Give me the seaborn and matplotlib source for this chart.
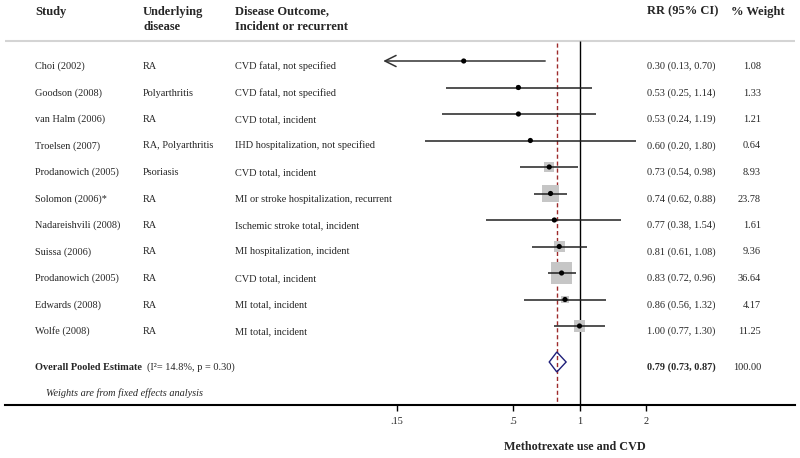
import numpy as np
import pandas as pd
import matplotlib
matplotlib.use('Agg')
import matplotlib.pyplot as plt
import seaborn as sns
from matplotlib.patches import Polygon

# forest plot data
studies = ['Choi (2002)', 'Goodson (2008)', 'van Halm (2006)', 'Troelsen (2007)',
           'Prodanowich (2005)', 'Solomon (2006)*', 'Nadareishvili (2008)',
           'Suissa (2006)', 'Prodanowich (2005)', 'Edwards (2008)', 'Wolfe (2008)']
diseases = ['RA', 'Polyarthritis', 'RA', 'RA, Polyarthritis', 'Psoriasis', 'RA',
            'RA', 'RA', 'RA', 'RA', 'RA']
outcomes = ['CVD fatal, not specified', 'CVD fatal, not specified', 'CVD total, incident',
            'IHD hospitalization, not specified', 'CVD total, incident',
            'MI or stroke hospitalization, recurrent', 'Ischemic stroke total, incident',
            'MI hospitalization, incident', 'CVD total, incident', 'MI total, incident',
            'MI total, incident']
rr = [0.30, 0.53, 0.53, 0.60, 0.73, 0.74, 0.77, 0.81, 0.83, 0.86, 1.00]
ci_lo = [0.13, 0.25, 0.24, 0.20, 0.54, 0.62, 0.38, 0.61, 0.72, 0.56, 0.77]
ci_hi = [0.70, 1.14, 1.19, 1.80, 0.98, 0.88, 1.54, 1.08, 0.96, 1.32, 1.30]
weights = [1.08, 1.33, 1.21, 0.64, 8.93, 23.78, 1.61, 9.36, 36.64, 4.17, 11.25]

pooled_rr, pooled_lo, pooled_hi = 0.79, 0.73, 0.87
i2, p_het = 14.8, 0.30
tick_vals = [0.15, 0.5, 1, 2]
tick_labels = ['.15', '.5', '1', '2']

sns.set_style('white')
plt.rcParams['font.family'] = 'Liberation Serif'

fig = plt.figure(figsize=(8, 4.58), dpi=100)
ax = fig.add_axes([5 / 800, 53 / 458, 790 / 800, 405 / 458])
ax.set_xscale('log')
ax.set_xlim(10 ** ((5 - 579.5) / 221.5), 10 ** ((795 - 579.5) / 221.5))
ax.set_ylim(405, 0)

row_y = 61 + 26.5 * np.arange(len(studies))
pooled_y = 362
df = pd.DataFrame({'rr': rr, 'lo': ci_lo, 'hi': ci_hi, 'weight': weights, 'y': row_y})

# reference lines
ax.axhline(41, color='#d4d4d4', lw=1.5)
ax.vlines(1, 41, 405, color='black', lw=1)
ax.vlines(pooled_rr, 43, 405, color='#9e2a2b', lw=1, linestyles=(0, (3, 2)))

# weight squares
sns.scatterplot(data=df, x='rr', y='y', size='weight', sizes=(0, 6.35 * 36.64),
                size_norm=(0, 36.64), marker='s', color='#c6c6c6', linewidth=0,
                edgecolor='none', legend=False, ax=ax, zorder=2)

# confidence intervals (arrow when beyond the axis range)
for _, r in df.iterrows():
    if r['lo'] < 0.15:
        ax.annotate('', xy=(r['lo'], r['y']), xytext=(r['hi'], r['y']),
                    arrowprops=dict(arrowstyle='->,head_length=0.8,head_width=0.4',
                                    color='#333333', lw=1.1, shrinkA=0, shrinkB=0),
                    zorder=3)
    else:
        ax.hlines(r['y'], r['lo'], r['hi'], color='#222222', lw=1.1, zorder=3)

sns.scatterplot(data=df, x='rr', y='y', color='black', s=14, linewidth=0,
                edgecolor='none', legend=False, ax=ax, zorder=4)

# pooled diamond
ax.add_patch(Polygon([(pooled_lo, pooled_y), (pooled_rr, pooled_y - 10),
                      (pooled_hi, pooled_y), (pooled_rr, pooled_y + 10)],
                     closed=True, fill=False, edgecolor='#1f1f7a', lw=1, zorder=5))

# text columns
tr = ax.get_yaxis_transform()
def fx(px):
    return (px - 5) / 790

hdr = dict(fontsize=9, fontweight='bold', va='baseline', transform=tr)
ax.text(fx(35), 14.5, 'Study', **hdr)
ax.text(fx(143), 14.5, 'Underlying', **hdr)
ax.text(fx(143), 29.5, 'disease', **hdr)
ax.text(fx(235), 14.5, 'Disease Outcome,', **hdr)
ax.text(fx(235), 29.5, 'Incident or recurrent', **hdr)
ax.text(fx(647), 14.5, 'RR (95% CI)', **hdr)
ax.text(fx(785), 14.5, '% Weight', ha='right', **hdr)

body = dict(fontsize=7.4, va='baseline', transform=tr)
for i in range(len(studies)):
    ty = row_y[i] + 8
    ax.text(fx(35), ty, studies[i], **body)
    ax.text(fx(143), ty, diseases[i], **body)
    ax.text(fx(235), ty, outcomes[i], **body)
    ax.text(fx(647), ty, f'{rr[i]:.2f} ({ci_lo[i]:.2f}, {ci_hi[i]:.2f})', **body)
    ax.text(fx(761), ty, f'{weights[i]:.2f}', ha='right', **body)

ax.text(fx(35), 369.5, 'Overall Pooled Estimate', fontweight='bold', **body)
ax.text(fx(147), 369.5, f'(I\u00b2= {i2}%, p = {p_het:.2f})', **body)
ax.text(fx(647), 369.5, f'{pooled_rr:.2f} ({pooled_lo:.2f}, {pooled_hi:.2f})',
        fontweight='bold', **body)
ax.text(fx(761), 369.5, '100.00', ha='right', **body)
ax.text(fx(46), 395.5, 'Weights are from fixed effects analysis', style='italic', **body)

# axis
for s in ['top', 'right', 'left']:
    ax.spines[s].set_visible(False)
ax.spines['bottom'].set_linewidth(1.5)
ax.spines['bottom'].set_color('black')
ax.set_yticks([])
ax.set_xticks(tick_vals)
ax.set_xticklabels(tick_labels)
ax.minorticks_off()
ax.tick_params(axis='x', direction='out', length=4, width=1, labelsize=7.4,
               pad=5, color='black', bottom=True)
ax.set_xlabel('')
ax.set_ylabel('')
ax.text(fx(575), 447, 'Methotrexate use and CVD', fontsize=8.7, fontweight='bold',
        ha='center', va='center', transform=tr)

fig.savefig('out.png', dpi=100)
